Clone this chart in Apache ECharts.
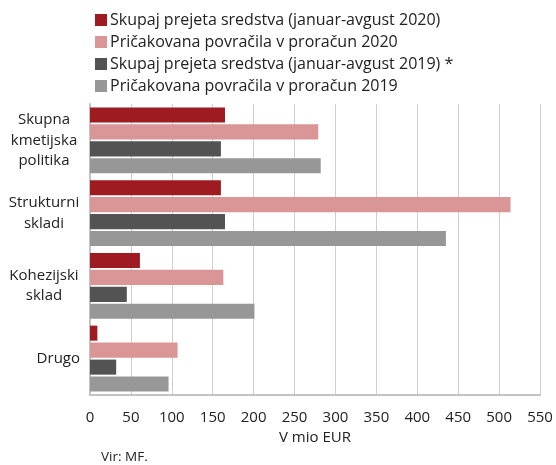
<!DOCTYPE html>
<html>
<head>
<meta charset="utf-8">
<style>
  html, body { margin: 0; padding: 0; background: #fff; }
  #chart { width: 556px; height: 465px; }
</style>
<script src="https://cdn.jsdelivr.net/npm/echarts@6/dist/echarts.min.js"></script>
</head>
<body>
<div id="chart"></div>
<script>
var categories = ['Skupna kmetijska politika', 'Strukturni skladi', 'Kohezijski sklad', 'Drugo'];
var seriesNames = [
    'Skupaj prejeta sredstva (januar-avgust 2020)',
    'Pričakovana povračila v proračun 2020',
    'Skupaj prejeta sredstva (januar-avgust 2019) *',
    'Pričakovana povračila v proračun 2019'
];
var prejeta2020 = [165, 160, 61, 9];
var povracila2020 = [279, 514, 163, 107];
var prejeta2019 = [160, 165, 45, 32];
var povracila2019 = [282, 435, 201, 96];
var xTicks = { min: 0, max: 550, interval: 50 };

var colors = ['#9e1b22', '#da9596', '#535353', '#979797'];
var values = [prejeta2020, povracila2020, prejeta2019, povracila2019];

var labelLines = {
    'Skupna kmetijska politika': ['Skupna', 'kmetijska', 'politika'],
    'Strukturni skladi': ['Strukturni', 'skladi'],
    'Kohezijski sklad': ['Kohezijski', 'sklad'],
    'Drugo': null
};

var myChart = echarts.init(document.getElementById('chart'));

var series = [];
for (var i = 0; i < seriesNames.length; i++) {
    series.push({
        name: seriesNames[i],
        type: 'bar',
        data: values[i],
        itemStyle: { color: colors[i] },
        barGap: '13%',
        barCategoryGap: '9.3%'
    });
}

var option = {
    animation: false,
    textStyle: { fontFamily: 'Open Sans' },
    title: {
        text: 'Vir: MF.',
        left: 101,
        top: 450,
        padding: 0,
        textStyle: { fontSize: 13.5, fontWeight: 'normal', color: '#222', fontFamily: 'Open Sans' }
    },
    legend: {
        orient: 'vertical',
        left: 90,
        top: 7,
        itemWidth: 12,
        itemHeight: 12,
        itemGap: 6,
        icon: 'rect',
        textStyle: { fontSize: 16, color: '#222', padding: [0, 0, 0, -2] },
        data: seriesNames
    },
    grid: {
        left: 90,
        right: 16,
        top: 104,
        bottom: 70,
        containLabel: false
    },
    xAxis: {
        type: 'value',
        min: xTicks.min,
        max: xTicks.max,
        interval: xTicks.interval,
        name: 'V mio EUR',
        nameLocation: 'middle',
        nameGap: 35,
        nameTextStyle: { fontSize: 15, color: '#222' },
        axisLine: { show: true, lineStyle: { color: '#c4c4c4', width: 2 } },
        axisTick: { show: false },
        axisLabel: { fontSize: 15, color: '#222', margin: 15 },
        splitLine: { show: true, lineStyle: { color: '#cfcfcf', width: 1 } }
    },
    yAxis: {
        type: 'category',
        inverse: true,
        data: categories,
        axisLine: { show: true, lineStyle: { color: '#c4c4c4', width: 2 } },
        axisTick: { show: false },
        axisLabel: {
            fontSize: 15,
            color: '#222',
            margin: 10,
            lineHeight: 20.5,
            formatter: function (v) {
                var lines = labelLines[v];
                if (!lines) return v;
                return lines.map(function (l) { return '{c|' + l + '}'; }).join('\n');
            },
            rich: {
                c: { width: 72, align: 'center', fontSize: 15, lineHeight: 20.5, color: '#222' }
            }
        }
    },
    series: series
};
myChart.setOption(option);

window.onresize = function () {
    myChart.resize();
};
</script>
</body>
</html>
